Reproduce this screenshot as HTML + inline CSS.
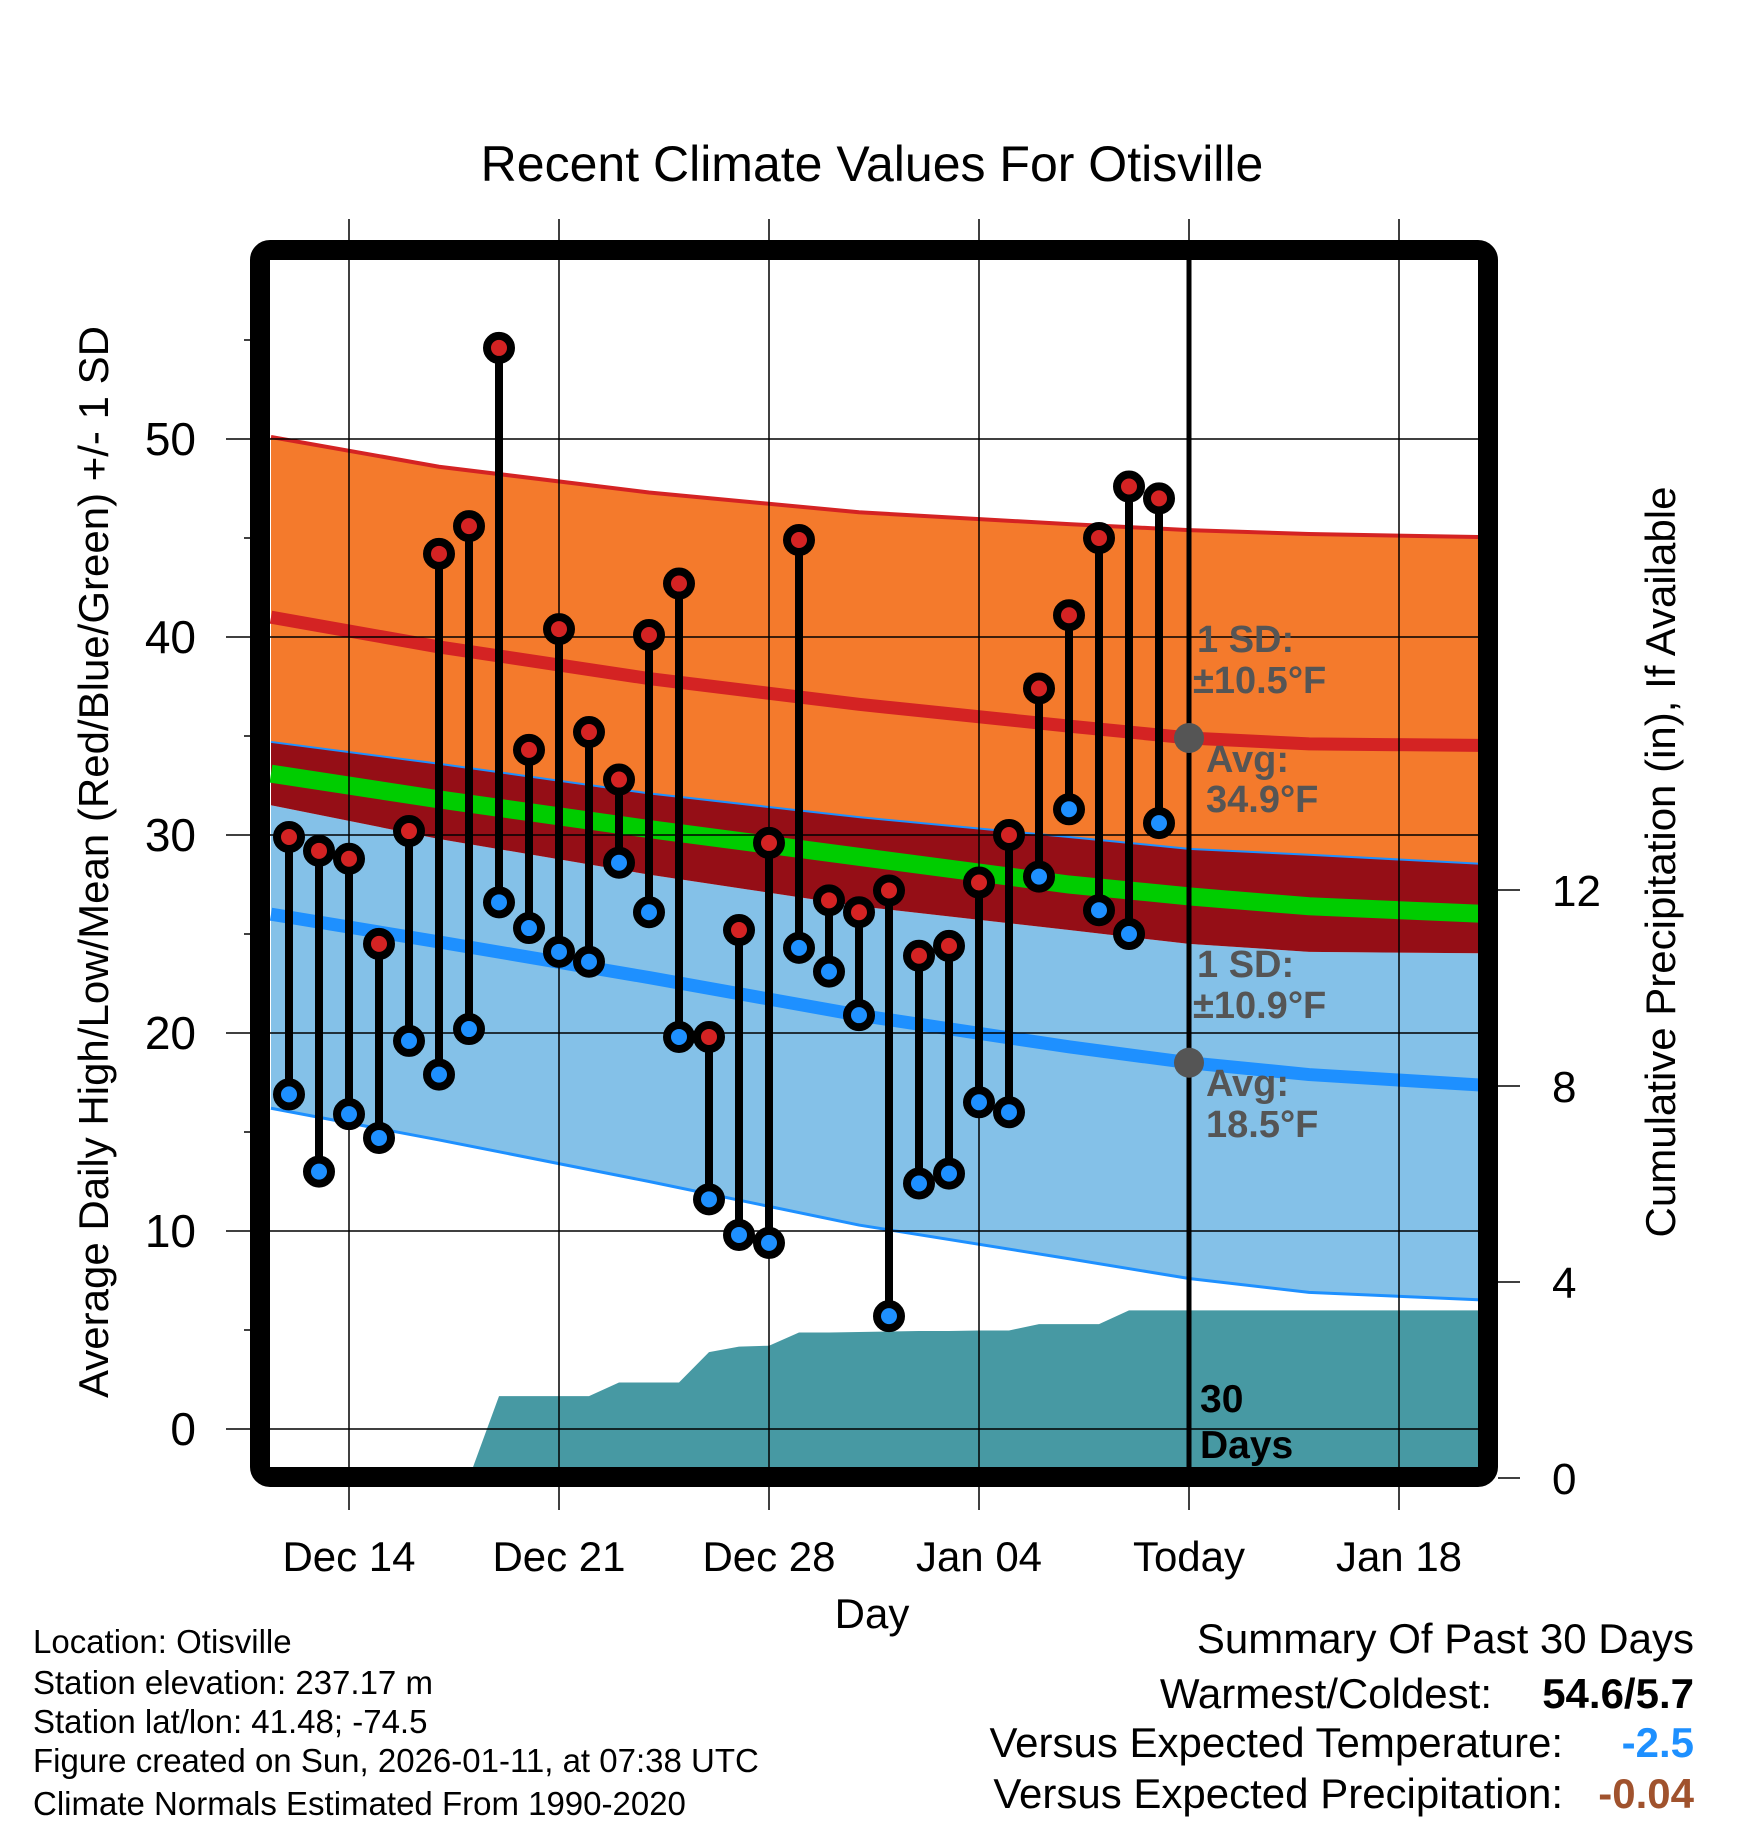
<!DOCTYPE html>
<html><head><meta charset="utf-8"><style>
html,body{margin:0;padding:0;background:#fff}
svg{display:block;font-family:"Liberation Sans",Arial,sans-serif}
</style></head><body>
<svg id="chart" width="1748" height="1828" viewBox="0 0 1748 1828" xmlns="http://www.w3.org/2000/svg">
<text x="872" y="181" font-size="50" text-anchor="middle">Recent Climate Values For Otisville</text>
<g id="plot"></g>
<g id="axes"></g>
<text transform="translate(108,862) rotate(-90)" font-size="42" text-anchor="middle">Average Daily High/Low/Mean (Red/Blue/Green) +/- 1 SD</text>
<text transform="translate(1675,862) rotate(-90)" font-size="42" text-anchor="middle">Cumulative Precipitation (in), If Available</text>
<text x="872" y="1628" font-size="42" text-anchor="middle">Day</text>
<g font-size="33">
<text x="33" y="1653">Location: Otisville</text>
<text x="33" y="1694">Station elevation: 237.17 m</text>
<text x="33" y="1733">Station lat/lon: 41.48; -74.5</text>
<text x="33" y="1772">Figure created on Sun, 2026-01-11, at 07:38 UTC</text>
<text x="33" y="1815">Climate Normals Estimated From 1990-2020</text>
</g>
<g font-size="42">
<text x="1694" y="1653" text-anchor="end">Summary Of Past 30 Days</text>
<text x="1492" y="1708" text-anchor="end">Warmest/Coldest:</text>
<text x="1694" y="1708" text-anchor="end" font-weight="bold">54.6/5.7</text>
<text x="1563" y="1757" text-anchor="end">Versus Expected Temperature:</text>
<text x="1694" y="1757" text-anchor="end" font-weight="bold" fill="#1e90ff">-2.5</text>
<text x="1563" y="1808" text-anchor="end">Versus Expected Precipitation:</text>
<text x="1694" y="1808" text-anchor="end" font-weight="bold" fill="#a0522d">-0.04</text>
</g>
</svg>
<script>
const highs=[29.9,29.2,28.8,24.5,30.2,44.2,45.6,54.6,34.3,40.4,35.2,32.8,40.1,42.7,19.8,25.2,29.6,44.9,26.7,26.1,27.2,23.9,24.4,27.6,30.0,37.4,41.1,45.0,47.6,47.0];
const lows=[16.9,13.0,15.9,14.7,19.6,17.9,20.2,26.6,25.3,24.1,23.6,28.6,26.1,19.8,11.6,9.8,9.4,24.3,23.1,20.9,5.7,12.4,12.9,16.5,16.0,27.9,31.3,26.2,25.0,30.6];
const firstDay=-2; // Dec 12 relative to Dec 14
const normDays=[-2.6,3,10,17,24,28,32,39.6];
const highTop=[50.1,48.6,47.3,46.3,45.7,45.4,45.2,45.0];
const highMean=[41.0,39.5,37.9,36.6,35.5,34.9,34.6,34.5];
const highBot=[34.7,33.6,32.1,30.9,29.9,29.3,29.0,28.4];
const meanLine=[33.1,31.8,30.3,28.9,27.5,26.9,26.4,25.9];
const lowTop=[31.5,29.8,28.0,26.4,25.2,24.5,24.1,24.0];
const lowMean=[26.0,24.6,22.8,20.9,19.3,18.5,17.9,17.2];
const lowBot=[16.2,14.6,12.5,10.3,8.6,7.6,6.9,6.4];
const precipDays=[4,5,6,7,8,9,10,11,12,13,14,15,16,17,18,19,20,21,22,23,24,25,26,27,39.6];
const precipVals=[0,1.67,1.67,1.67,1.67,1.95,1.95,1.95,2.57,2.68,2.70,2.97,2.97,2.98,2.99,3.0,3.0,3.01,3.01,3.14,3.14,3.14,3.42,3.42,3.42];
const xTickDays=[0,7,14,21,28,35];
const xTickLabels=["Dec 14","Dec 21","Dec 28","Jan 04","Today","Jan 18"];
const yTicks=[0,10,20,30,40,50];
const pTicks=[0,4,8,12];
const todayDay=28, todayHighAvg=34.9, todayLowAvg=18.5;

const NS="http://www.w3.org/2000/svg";
const L=270,R=1478,T=260,B=1467;
const X=d=>349+d*30;
const Y=v=>1429-v*19.8;
const P=v=>1478-v*49;
function mk(tag,attrs,parent){const e=document.createElementNS(NS,tag);for(const k in attrs)e.setAttribute(k,attrs[k]);parent.appendChild(e);return e;}
const plot=document.getElementById('plot'), axes=document.getElementById('axes');
function line(days,vals){return days.map((d,i)=>X(d)+','+Y(vals[i])).join(' ');}
function band(top,bot){return line(normDays,top)+' '+normDays.slice().reverse().map((d,i)=>X(d)+','+Y(bot[bot.length-1-i])).join(' ');}
const clip=mk('clipPath',{id:'c'},plot);mk('rect',{x:L,y:T,width:R-L,height:B-T},clip);
const g=mk('g',{'clip-path':'url(#c)'},plot);
let e;
e=mk('polygon',{points:band(highTop,highBot),fill:'#f47a2c'},g);

e=mk('polygon',{points:band(lowTop,lowBot),fill:'#84c1e8'},g);

e=mk('polygon',{points:band(highBot,lowTop),fill:'#950e16'},g);

e=mk('polyline',{points:line(normDays,meanLine),fill:'none',stroke:'#00cc00',"stroke-width":18},g);

e=mk('polyline',{points:line(normDays,highTop),fill:'none',stroke:'#d42323',"stroke-width":4},g);

e=mk('polyline',{points:line(normDays,highBot),fill:'none',stroke:'#1e90ff',"stroke-width":2},g);

e=mk('polyline',{points:line(normDays,lowBot),fill:'none',stroke:'#1e90ff',"stroke-width":3},g);

e=mk('polyline',{points:line(normDays,highMean),fill:'none',stroke:'#d42323',"stroke-width":13},g);

e=mk('polyline',{points:line(normDays,lowMean),fill:'none',stroke:'#1e90ff',"stroke-width":13},g);

let pp=precipDays.map((d,i)=>X(d)+','+P(precipVals[i])).join(' ');
pp+=' '+X(precipDays[precipDays.length-1])+','+P(0)+' '+X(precipDays[0])+','+P(0);
e=mk('polygon',{points:pp,fill:'#4799a3'},g);

xTickDays.forEach(d=>{e=mk('line',{x1:X(d),x2:X(d),y1:219,y2:1510,stroke:'#000','stroke-width':1.5},axes);
});
yTicks.forEach(v=>{e=mk('line',{x1:226,x2:R,y1:Y(v),y2:Y(v),stroke:'#000','stroke-width':1.5},axes);

e=mk('text',{x:196,y:Y(v)+16,'font-size':46,'text-anchor':'end'},axes);e.textContent=v;
});
[5,15,25,35,45,55].forEach(v=>{e=mk('line',{x1:244,x2:260,y1:Y(v),y2:Y(v),stroke:'#000','stroke-width':1.5},axes);
});
pTicks.forEach(v=>{e=mk('line',{x1:1498,x2:1520,y1:P(v),y2:P(v),stroke:'#000','stroke-width':1.5},axes);

e=mk('text',{x:1552,y:P(v)+16,'font-size':44},axes);e.textContent=v;
});
xTickDays.forEach((d,i)=>{e=mk('text',{x:X(d),y:1571,'font-size':42,'text-anchor':'middle'},axes);e.textContent=xTickLabels[i];
});
e=mk('line',{x1:X(todayDay),x2:X(todayDay),y1:T,y2:B,stroke:'#000','stroke-width':5},axes);

highs.forEach((h,i)=>{const x=X(firstDay+i);
e=mk('line',{x1:x,x2:x,y1:Y(h),y2:Y(lows[i]),stroke:'#000','stroke-width':8},axes);

e=mk('circle',{cx:x,cy:Y(h),r:12,fill:'#d42323',stroke:'#000','stroke-width':8},axes);

e=mk('circle',{cx:x,cy:Y(lows[i]),r:12,fill:'#1e90ff',stroke:'#000','stroke-width':8},axes);
});
e=mk('circle',{cx:X(todayDay),cy:Y(todayHighAvg),r:15,fill:'#555'},axes);

e=mk('circle',{cx:X(todayDay),cy:Y(todayLowAvg),r:15,fill:'#555'},axes);

const ann=[[1197,652,'1 SD:'],[1193,693,'±10.5°F'],[1206,772,'Avg:'],[1206,812,'34.9°F'],[1197,977,'1 SD:'],[1193,1018,'±10.9°F'],[1206,1096,'Avg:'],[1206,1137,'18.5°F']];
ann.forEach(a=>{e=mk('text',{x:a[0],y:a[1],'font-size':38,'font-weight':'bold',fill:'#555'},axes);e.textContent=a[2];
});
e=mk('text',{x:1200,y:1412,'font-size':39,'font-weight':'bold'},axes);e.textContent='30';

e=mk('text',{x:1200,y:1458,'font-size':39,'font-weight':'bold'},axes);e.textContent='Days';

e=mk('rect',{x:260,y:250,width:1228,height:1227,rx:10,fill:'none',stroke:'#000','stroke-width':20},axes);

</script>
</body></html>
